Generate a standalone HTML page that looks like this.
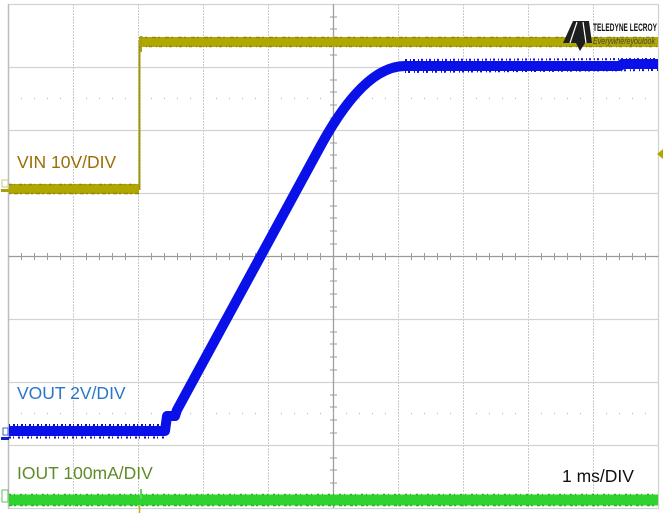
<!DOCTYPE html>
<html>
<head>
<meta charset="utf-8">
<style>
html,body{margin:0;padding:0;background:#fff;}
body{width:663px;height:513px;overflow:hidden;}
svg{display:block;}
text{font-family:"Liberation Sans",sans-serif;}
</style>
</head>
<body>
<svg width="663" height="513" viewBox="0 0 663 513" xmlns="http://www.w3.org/2000/svg">
<rect x="0" y="0" width="663" height="513" fill="#ffffff"/>
<!-- horizontal grid -->
<g stroke="#d2d2d2" stroke-width="1.2">
<line x1="8.5" y1="4.5" x2="658.5" y2="4.5"/>
<line x1="8.5" y1="67.5" x2="658.5" y2="67.5"/>
<line x1="8.5" y1="130.5" x2="658.5" y2="130.5"/>
<line x1="8.5" y1="193.5" x2="658.5" y2="193.5"/>
<line x1="8.5" y1="319.5" x2="658.5" y2="319.5"/>
<line x1="8.5" y1="382.5" x2="658.5" y2="382.5"/>
<line x1="8.5" y1="445.5" x2="658.5" y2="445.5"/>
<line x1="8.5" y1="508.5" x2="658.5" y2="508.5"/>
</g>
<!-- vertical grid (dotted) -->
<g stroke="#cacaca" stroke-width="1" stroke-dasharray="2,1">
<line x1="73.5" y1="4" x2="73.5" y2="508"/>
<line x1="138.5" y1="4" x2="138.5" y2="508"/>
<line x1="203.5" y1="4" x2="203.5" y2="508"/>
<line x1="268.5" y1="4" x2="268.5" y2="508"/>
<line x1="398.5" y1="4" x2="398.5" y2="508"/>
<line x1="463.5" y1="4" x2="463.5" y2="508"/>
<line x1="528.5" y1="4" x2="528.5" y2="508"/>
<line x1="593.5" y1="4" x2="593.5" y2="508"/>
</g>
<!-- borders -->
<line x1="8.5" y1="4" x2="8.5" y2="509" stroke="#bdbdbd" stroke-width="1.5"/>
<line x1="658.5" y1="4" x2="658.5" y2="509" stroke="#d0d0d0" stroke-width="1.2"/>
<!-- center lines -->
<line x1="8.5" y1="256.5" x2="658.5" y2="256.5" stroke="#9a9a9a" stroke-width="1.3"/>
<line x1="333.5" y1="4" x2="333.5" y2="508" stroke="#a0a0a0" stroke-width="1.3"/>
<!-- ticks on center lines -->
<g stroke="#9a9a9a" stroke-width="1">
<path d="M21.5 253v7M34.5 253v7M47.5 253v7M60.5 253v7M86.5 253v7M99.5 253v7M112.5 253v7M125.5 253v7M151.5 253v7M164.5 253v7M177.5 253v7M190.5 253v7M216.5 253v7M229.5 253v7M242.5 253v7M255.5 253v7M281.5 253v7M294.5 253v7M307.5 253v7M320.5 253v7M346.5 253v7M359.5 253v7M372.5 253v7M385.5 253v7M411.5 253v7M424.5 253v7M437.5 253v7M450.5 253v7M476.5 253v7M489.5 253v7M502.5 253v7M515.5 253v7M541.5 253v7M554.5 253v7M567.5 253v7M580.5 253v7M606.5 253v7M619.5 253v7M632.5 253v7M645.5 253v7"/>
<path d="M330 17h7M330 29h7M330 42h7M330 55h7M330 80h7M330 92h7M330 105h7M330 118h7M330 143h7M330 155h7M330 168h7M330 181h7M330 206h7M330 218h7M330 231h7M330 244h7M330 269h7M330 281h7M330 294h7M330 307h7M330 332h7M330 344h7M330 357h7M330 370h7M330 395h7M330 407h7M330 420h7M330 433h7M330 458h7M330 470h7M330 483h7M330 496h7"/>
</g>
<!-- dotted rows -->
<g stroke="#bcbcbc" stroke-width="1.2" stroke-dasharray="1,12">
<line x1="21" y1="98.5" x2="658" y2="98.5"/>
<line x1="21" y1="413.5" x2="658" y2="413.5"/>
</g>

<!-- VIN trace (yellow) -->
<g>
<line x1="9" y1="189" x2="139" y2="189" stroke="#b0a800" stroke-width="10"/>
<line x1="9" y1="184.5" x2="139" y2="184.5" stroke="#8c8810" stroke-width="1.5" stroke-dasharray="3,2,1,4"/>
<line x1="9" y1="193.5" x2="139" y2="193.5" stroke="#8c8810" stroke-width="1.5" stroke-dasharray="2,3,4,2"/>
<line x1="139.5" y1="190" x2="139.5" y2="40" stroke="#9e9810" stroke-width="2"/>
<line x1="139" y1="42" x2="658" y2="42" stroke="#b0a800" stroke-width="10"/>
<line x1="139" y1="37.5" x2="658" y2="37.5" stroke="#8c8810" stroke-width="1.5" stroke-dasharray="4,2,2,5"/>
<line x1="139" y1="46.5" x2="658" y2="46.5" stroke="#8c8810" stroke-width="1.5" stroke-dasharray="3,4,1,2"/>
<line x1="141" y1="36" x2="141" y2="52" stroke="#a8a010" stroke-width="2"/>
</g>

<!-- VOUT trace (blue) -->
<g fill="none" stroke-linejoin="round">
<path d="M9 431 L165 431 L167 416 L175 416 L177 410 L320 147 Q364 66 405 66 L620 66 L622 64 L658 64" stroke="#0a10e8" stroke-width="10"/>
<path d="M9 425 L165 425" stroke="#0a10c8" stroke-width="2" stroke-dasharray="1,3,2,2"/>
<path d="M9 437.5 L165 437.5" stroke="#0a10c8" stroke-width="2" stroke-dasharray="2,2,1,4"/>
<path d="M405 60 L658 59" stroke="#0a10d0" stroke-width="2" stroke-dasharray="2,3,1,2"/>
<path d="M405 72 L658 70" stroke="#0a10d0" stroke-width="2" stroke-dasharray="1,2,2,4"/>
</g>

<!-- IOUT trace (green) -->
<g>
<line x1="9" y1="500" x2="658" y2="500" stroke="#2fd22f" stroke-width="11"/>
<line x1="9" y1="494.5" x2="658" y2="494.5" stroke="#28b428" stroke-width="1.5" stroke-dasharray="2,3,1,5"/>
<line x1="9" y1="505.5" x2="658" y2="505.5" stroke="#28b428" stroke-width="1.5" stroke-dasharray="3,2,2,4"/>
<line x1="141" y1="489" x2="141" y2="499" stroke="#5bd85b" stroke-width="2"/>
<line x1="139.5" y1="506" x2="139.5" y2="513" stroke="#c0b000" stroke-width="1.5"/>
</g>

<!-- channel markers -->
<rect x="2" y="180" width="6" height="7" fill="none" stroke="#c8c890" stroke-width="1"/>
<rect x="1" y="189" width="8" height="3" fill="#a8a010"/>
<rect x="3" y="428" width="5" height="7" fill="none" stroke="#4060c0" stroke-width="1"/>
<rect x="1" y="437" width="8" height="3" fill="#1020d0"/>
<rect x="2" y="490" width="6" height="12" fill="none" stroke="#60c060" stroke-width="1"/>
<polygon points="663,149 657,154 663,159" fill="#b0a800"/>

<!-- logo -->
<g>
<polygon points="563,43 573,21 589,21 592,43 585,43 580,51 576,43" fill="#1e1e1e"/>
<g stroke="#ffffff" stroke-width="1.2">
<line x1="570" y1="43" x2="577" y2="22"/>
<line x1="586" y1="43" x2="583" y2="22"/>
</g>
<text x="593" y="31" font-size="11" font-weight="bold" fill="#111" textLength="64" lengthAdjust="spacingAndGlyphs">TELEDYNE LECROY</text>
<text x="593" y="44" font-size="9" font-style="italic" fill="#444" textLength="62" lengthAdjust="spacingAndGlyphs">Everywhereyoulook</text>
</g>

<!-- labels -->
<text x="17" y="168" font-size="17.5" fill="#9c6c06">VIN 10V/DIV</text>
<text x="17" y="399" font-size="17.5" fill="#2a76c6">VOUT 2V/DIV</text>
<text x="17" y="479" font-size="17.5" fill="#5e8c26">IOUT 100mA/DIV</text>
<text x="562" y="482" font-size="17.5" fill="#111">1 ms/DIV</text>
</svg>
</body>
</html>
